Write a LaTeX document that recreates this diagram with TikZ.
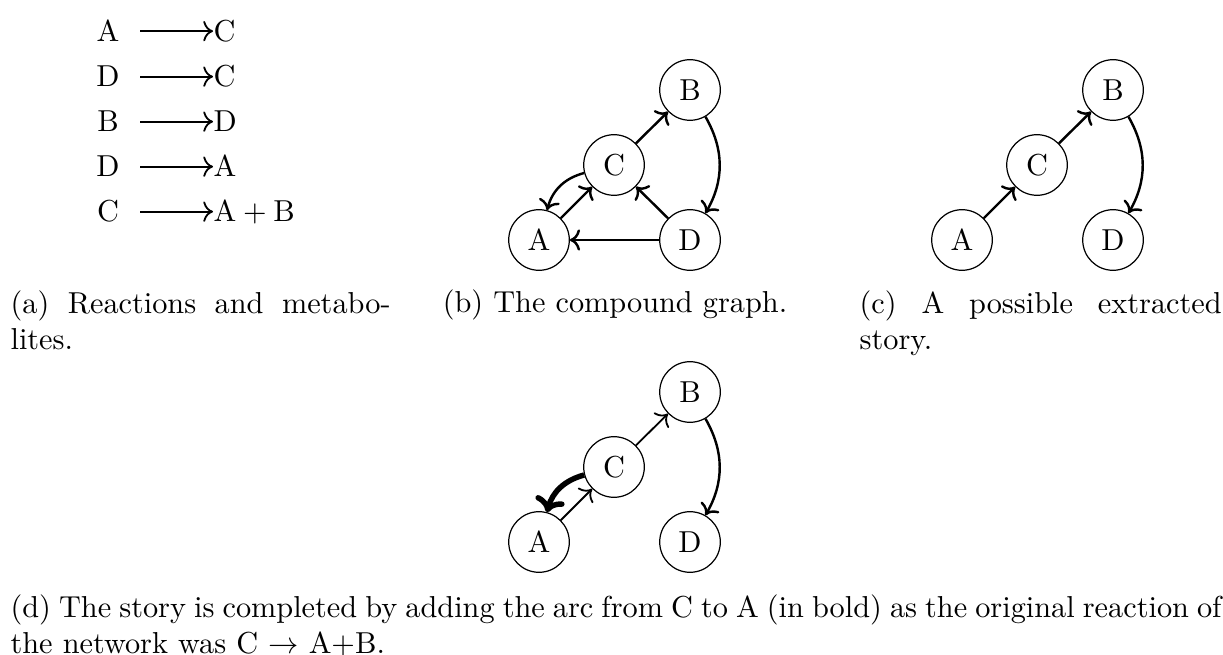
\documentclass[tikz,border=0pt]{standalone}
\usepackage{tikz}
\usetikzlibrary{positioning,arrows.meta}

\begin{document}
\begin{tikzpicture}[x=0.33pt,y=-0.33pt,
                  met/.style={circle,draw,thin,minimum size=20pt,inner sep=0pt},
                  lhs/.style={anchor=base,inner sep=0pt,minimum width=21pt},
                  rhs/.style={anchor=base west,inner sep=0pt},
                  rxn/.style={-{To[scale=1.1]},semithick},
                  arr/.style={-{To},thick},
                  thinarr/.style={-{To[scale=1.15]},semithick},
                  boldarr/.style={-{To[scale=0.85]},line width=1.8pt},
                  capt/.style={inner sep=0pt,align=justify,anchor=north west}
                ]
                \useasboundingbox (0,0) rectangle (1223,655);
                % (a) reactions
                \node[lhs] (l1) at (108,42) {A};
                \node[rhs] (r1) at (213,42) {C};
                \node[lhs] (l2) at (108,87) {D};
                \node[rhs] (r2) at (213,87) {C};
                \node[lhs] (l3) at (108,132) {B};
                \node[rhs] (r3) at (213,132) {D};
                \node[lhs] (l4) at (108,177) {D};
                \node[rhs] (r4) at (213,177) {A};
                \node[lhs] (l5) at (108,222) {C};
                \node[rhs] (r5) at (213,222) {$\mathrm{A}+\mathrm{B}$};
                \draw[rxn] (l1.east) -- (l1.east -| r1.west);
                \draw[rxn] (l2.east) -- (l2.east -| r2.west);
                \draw[rxn] (l3.east) -- (l3.east -| r3.west);
                \draw[rxn] (l4.east) -- (l4.east -| r4.west);
                \draw[rxn] (l5.east) -- (l5.east -| r5.west);
                
                % (b) compound graph
                \node[met] (bA) at (539,240) {A};
                \node[met] (bC) at (614,165) {C};
                \node[met] (bB) at (690,90) {B};
                \node[met] (bD) at (690,240) {D};
                \draw[arr] (bA) -- (bC);
                \draw[arr] (bC) to[bend right] (bA);
                \draw[arr] (bC) -- (bB);
                \draw[arr] (bB) to[bend left] (bD);
                \draw[arr] (bD) -- (bC);
                \draw[arr] (bD) -- (bA);
                
                % (c) extracted story
                \node[met] (cA) at (962,240) {A};
                \node[met] (cC) at (1037,165) {C};
                \node[met] (cB) at (1113,90) {B};
                \node[met] (cD) at (1113,240) {D};
                \draw[arr] (cA) -- (cC);
                \draw[arr] (cC) -- (cB);
                \draw[arr] (cB) to[bend left] (cD);
                
                % (d) completed story
                \node[met] (dA) at (539,542) {A};
                \node[met] (dC) at (614,467) {C};
                \node[met] (dB) at (690,392) {B};
                \node[met] (dD) at (690,542) {D};
                \draw[thinarr] (dA) -- (dC);
                \draw[boldarr] (dC) to[bend right] (dA);
                \draw[thinarr] (dC) -- (dB);
                \draw[arr] (dB) to[bend left] (dD);
                
                % captions
                \node[capt,text width=125.4pt] (capa) at (10,290) {(a) Reactions and metabo-\linebreak lites.};
                \node[anchor=base,inner sep=0pt] (capb) at (615,313) {(b) The compound graph.};
                \node[capt,text width=119.5pt] (capc) at (859,290) {(c) A possible extracted\linebreak story.};
                \node[capt,text width=399.6pt] (capd) at (10,594) {(d) The story is completed by adding the arc from C to A (in bold) as the original reaction of\linebreak the network was C $\rightarrow$ A+B.};
                \end{tikzpicture}
\end{document}
